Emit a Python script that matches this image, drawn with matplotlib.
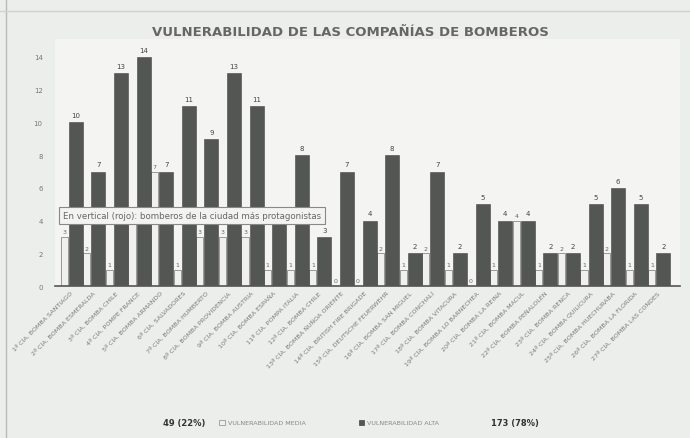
import matplotlib.pyplot as plt
import numpy as np

companias = ["1ª CÍA. BOMBA SANTIAGO", "2ª CÍA. BOMBA ESMERALDA", "3ª CÍA. BOMBA CHILE",
             "4ª CÍA. POMPE FRANCE", "5ª CÍA. BOMBA ARMANDO", "6ª CÍA. SALVADORES",
             "7ª CÍA. BOMBA HUMBERTO", "8ª CÍA. BOMBA PROVIDENCIA", "9ª CÍA. BOMBA AUSTRIA",
             "10ª CÍA. BOMBA ESPAÑA", "11ª CÍA. POMPA ITALIA", "12ª CÍA. BOMBA CHILE",
             "13ª CÍA. BOMBA ÑUÑOA ORIENTE", "14ª CÍA. BRITISH FIRE BRIGADE", "15ª CÍA. DEUTSCHE FEUERWEHR",
             "16ª CÍA. BOMBA SAN MIGUEL", "17ª CÍA. BOMBA CONCHALÍ", "18ª CÍA. BOMBA VITACURA",
             "19ª CÍA. BOMBA LO BARNECHEA", "20ª CÍA. BOMBA LA REINA", "21ª CÍA. BOMBA MACUL",
             "22ª CÍA. BOMBA PEÑALOLÉN", "23ª CÍA. BOMBA RENCA", "24ª CÍA. BOMBA QUILICURA",
             "25ª CÍA. BOMBA HUECHURABA", "26ª CÍA. BOMBA LA FLORIDA", "27ª CÍA. BOMBA LAS CONDES"]
media = [3, 2, 1, 4, 7, 1, 3, 3, 3, 1, 1, 1, 0, 0, 2, 1, 2, 1, 0, 1, 4, 1, 2, 1, 2, 1, 1]
alta = [10, 7, 13, 14, 7, 11, 9, 13, 11, 4, 8, 3, 7, 4, 8, 2, 7, 2, 5, 4, 4, 2, 2, 5, 6, 5, 2]
yticks = [0, 2, 4, 6, 8, 10, 12, 14]

fig = plt.figure(figsize=(6.9, 4.39), dpi=100, facecolor='#eceeeb')
ax = fig.add_axes([0.08, 0.346, 0.906, 0.563])
ax.set_facecolor('#f4f5f3')

x = np.arange(len(companias))
b1 = ax.bar(x - 0.33, media, width=0.32, color='#f0f0ee', edgecolor='#8a8a8a', linewidth=0.6)
b2 = ax.bar(x + 0.18, alta, width=0.62, color='#545654', edgecolor='#454545', linewidth=0.4)

# el recuadro de texto tapa las etiquetas que caen bajo él
tapadas = [i for i in range(13) if 3.2 <= media[i] <= 4.9]
lab1 = ['' if i in tapadas else str(v) for i, v in enumerate(media)]
lab2 = ['' if (i < 13 and 3.2 <= v <= 4.9) else str(v) for i, v in enumerate(alta)]
ax.bar_label(b1, labels=lab1, fontsize=4.5, color='#666666', padding=2)
ax.bar_label(b2, labels=lab2, fontsize=5, color='#444444', padding=3)

ax.set_xlim(-0.73, 26.93)
ax.set_ylim(0, 15.1)
ax.set_yticks(yticks)
ax.tick_params(axis='y', labelsize=5, colors='#777777', length=0, pad=9)
ax.set_xticks(x + 0.1)
ax.set_xticklabels(companias, rotation=45, ha='right', fontsize=4.6, color='#7a7a7a')
ax.tick_params(axis='x', length=0, pad=3)
for s in ['top', 'right', 'left']:
    ax.spines[s].set_visible(False)
ax.spines['bottom'].set_color('#555555')
ax.spines['bottom'].set_linewidth(1.2)

ax.text(0.012, 0.287, "En vertical (rojo): bomberos de la ciudad más protagonistas",
        transform=ax.transAxes, va='center', fontsize=6.2, color='#666666', zorder=5,
        bbox=dict(boxstyle='square,pad=0.45', fc='#f3f3f1', ec='#888888', lw=0.8))

fig.text(0.508, 0.927, "VULNERABILIDAD DE LAS COMPAÑÍAS DE BOMBEROS",
         ha='center', va='center', fontsize=9.5, fontweight='bold', color='#666666')

# leyenda inferior
fig.text(0.236, 0.036, "49 (22%)", fontsize=6, fontweight='bold', color='#333333', va='center')
fig.patches.append(plt.Rectangle((0.318, 0.030), 0.008, 0.012, transform=fig.transFigure,
                                 fc='#f0f0ee', ec='#888888', lw=0.5))
fig.text(0.33, 0.036, "VULNERABILIDAD MEDIA", fontsize=4.6, color='#888888', va='center')
fig.patches.append(plt.Rectangle((0.52, 0.030), 0.008, 0.012, transform=fig.transFigure,
                                 fc='#545654', ec='#454545', lw=0.5))
fig.text(0.532, 0.036, "VULNERABILIDAD ALTA", fontsize=4.6, color='#888888', va='center')
fig.text(0.712, 0.036, "173 (78%)", fontsize=6, fontweight='bold', color='#333333', va='center')

# borde del escaneo
fig.add_artist(plt.Line2D([0.008, 0.008], [0.0, 1.0], color='#b8bab7', lw=1))
fig.add_artist(plt.Line2D([0.0, 1.0], [0.972, 0.972], color='#d0d2cf', lw=1))

fig.savefig('out.png', dpi=100, facecolor=fig.get_facecolor())
